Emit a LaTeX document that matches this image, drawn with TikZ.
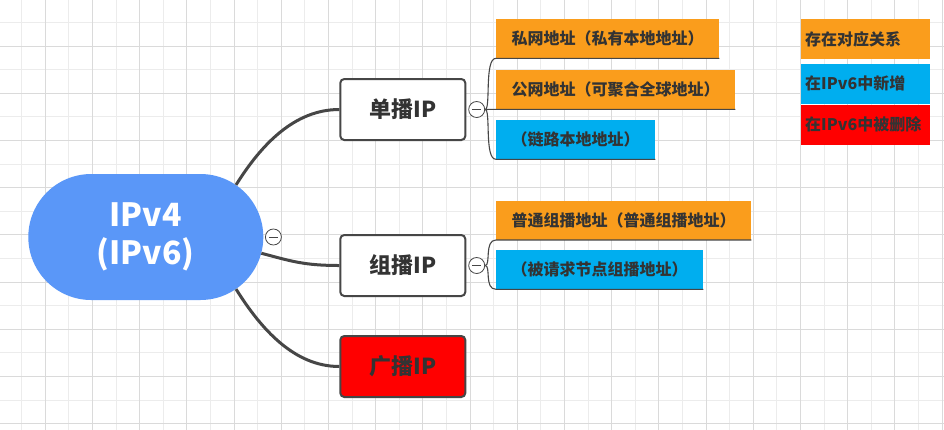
\documentclass[tikz,border=0pt]{standalone}
\usepackage{fontspec}
\setmainfont{Noto Sans CJK SC}
\usepackage{tikz}
\usetikzlibrary{positioning, shapes.misc}
\definecolor{rootblue}{RGB}{90,151,248}
\definecolor{addrorange}{RGB}{250,157,28}
\definecolor{addrblue}{RGB}{0,174,239}
\definecolor{addrred}{RGB}{255,0,0}
\definecolor{inkgray}{RGB}{51,51,51}
\definecolor{linegray}{RGB}{70,70,70}
\tikzset{
	minorgrid/.style={draw={rgb,255:red,236;green,236;blue,236}, line width=0.9pt},
	majorgrid/.style={draw={rgb,255:red,218;green,218;blue,218}, line width=0.9pt}
}
\tikzset{
	rootnode/.style={rounded rectangle, fill=rootblue, text=white, align=center,
		font=\fontsize{32}{38}\selectfont\bfseries, minimum width=235pt, minimum height=126pt, inner sep=0pt}
}
\tikzset{
	topicbox/.style={draw=linegray, line width=2pt, rounded corners=4pt, fill=#1, text=inkgray,
		font=\fontsize{22}{26}\selectfont\bfseries, minimum width=125pt, minimum height=61pt, inner sep=0pt},
	topicbox/.default=white
}
\tikzset{
	addrbox/.style={fill=#1, text=inkgray, font=\fontsize{16}{19}\selectfont\bfseries,
		inner xsep=15.5pt, inner ysep=0pt, minimum height=39pt, anchor=south west},
	keybox/.style={fill=#1, text=inkgray, font=\fontsize{16}{19}\selectfont\bfseries,
		text width=121pt, align=left, inner xsep=4pt, inner ysep=0pt, minimum height=39.5pt, anchor=north west}
}
\tikzset{
	foldmark/.style={circle, draw=linegray, line width=0.8pt, fill=white, minimum size=16pt, inner sep=0pt,
		path picture={\draw[linegray, line width=0.8pt] ([xshift=-4.5pt]path picture bounding box.center)
			-- ([xshift=4.5pt]path picture bounding box.center);}},
	trunk/.style={draw=linegray, line width=3pt},
	twig/.style={draw=linegray, line width=1.1pt}
}

\begin{document}
\begin{tikzpicture}[x=1pt, y=-1pt]
  \fill[white] (0,0) rectangle (944,429);
  \useasboundingbox (0,0) rectangle (944,429);
  \begin{scope}
    \clip (0,0) rectangle (944,429);
    \draw[minorgrid, shift={(-1.9,-1.2)}, step=23.6pt] (0,0) grid (960,440);
    \draw[majorgrid, shift={(-1.9,-1.2)}, step=47.2pt] (0,0) grid (960,440);
  \end{scope}

  % main topic and branches
  \node[rootnode] (root) at (145.8,237) {IPv4\\(IPv6)};
  \node[topicbox] (uni) at (402.8,109.5) {单播IP};
  \node[topicbox] (multi) at (402.8,265.5) {组播IP};
  \node[topicbox=addrred] (bcast) at (402.8,366.5) {广播IP};

  % address kinds
  \node[addrbox=addrorange] (priv) at (496,58.3) {私网地址（私有本地地址）};
  \node[addrbox=addrorange] (glob) at (496,109.3) {公网地址（可聚合全球地址）};
  \node[addrbox=addrblue] (link) at (496,159.3) {（链路本地地址）};
  \node[addrbox=addrorange] (grp) at (496,240) {普通组播地址（普通组播地址）};
  \node[addrbox=addrblue] (solnode) at (496,289.3) {（被请求节点组播地址）};

  % legend
  \node[keybox=addrorange] (keyold) at (801,19) {存在对应关系};
  \node[keybox=addrblue, below=5pt of keyold.south west, anchor=north west] (keynew) {在IPv6中新增};
  \node[keybox=addrred, below=1pt of keynew.south west, anchor=north west] (keygone) {在IPv6中被删除};

  \draw[trunk] (root.30) .. controls +(25,-40) and +(-45,0) .. (uni.west);
  \draw[trunk] (root.-8) .. controls +(30,8) and +(-35,0) .. (multi.west);
  \draw[trunk] (root.-30) .. controls +(25,40) and +(-45,0) .. (bcast.west);

  \node[foldmark, right=1.5pt of root] (rootfold) {};
  \node[foldmark, right=2pt of uni] (unifold) {};
  \node[foldmark, right=2pt of multi] (multifold) {};

  \draw[twig] (unifold.east) .. controls +(6,0) and +(-12,0) .. (priv.south west) -- (priv.south east);
  \draw[twig] (unifold.east) -- (glob.south west) -- (glob.south east);
  \draw[twig] (unifold.east) .. controls +(6,0) and +(-12,0) .. (link.south west) -- (link.south east);
  \draw[twig] (multifold.east) .. controls +(6,0) and +(-12,0) .. (grp.south west) -- (grp.south east);
  \draw[twig] (multifold.east) .. controls +(6,0) and +(-12,0) .. (solnode.south west) -- (solnode.south east);
\end{tikzpicture}
\end{document}
